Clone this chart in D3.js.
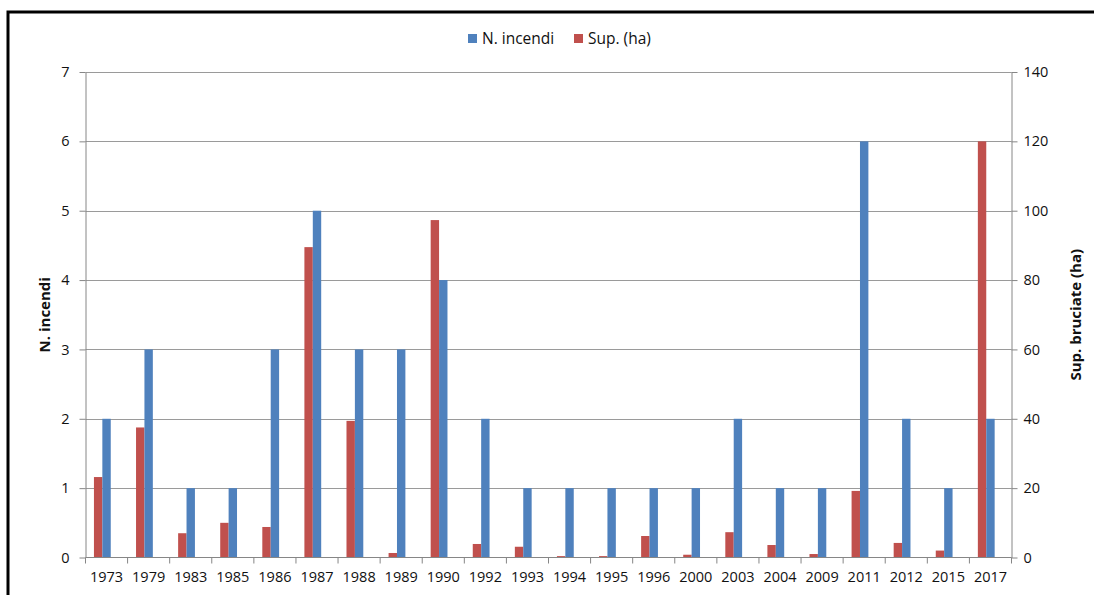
<!DOCTYPE html>
<html><head><meta charset="utf-8">
<script src="https://cdn.jsdelivr.net/npm/d3@7"></script>
<style>
html,body{margin:0;padding:0;background:#fff;}
svg{display:block;}
text{font-family:"Open Sans",sans-serif;fill:#111;}
</style></head>
<body>
<script>
const years = ["1973","1979","1983","1985","1986","1987","1988","1989","1990","1992","1993","1994","1995","1996","2000","2003","2004","2009","2011","2012","2015","2017"];
const nIncendi = [2,3,1,1,3,5,3,3,4,2,1,1,1,1,1,2,1,1,6,2,1,2];
const supHa = [23.2,37.5,7.0,10.0,8.8,89.5,39.4,1.3,97.3,3.9,3.1,0.4,0.4,6.2,0.8,7.3,3.6,1.0,19.2,4.2,2.0,120];
const leftTicks = [0,1,2,3,4,5,6,7];
const rightTicks = [0,20,40,60,80,100,120,140];
const seriesNames = ["N. incendi","Sup. (ha)"];
const colors = ["#4F81BD","#C0504D"];

const W=1094,H=595;
const m={left:85.5,right:1011.5,top:72,bottom:557.5};
const svg=d3.select("body").append("svg").attr("width",W).attr("height",H);

// outer frame
svg.append("rect").attr("x",8).attr("y",12).attr("width",W+20).attr("height",H+20)
  .attr("fill","none").attr("stroke","#000").attr("stroke-width",3);

const x=d3.scaleBand().domain(years).range([m.left,m.right]).padding(0);
const yL=d3.scaleLinear().domain([0,7]).range([m.bottom,m.top]);
const yR=d3.scaleLinear().domain([0,140]).range([m.bottom,m.top]);
const bw=8.4;

// gridlines
svg.append("g").selectAll("line").data(leftTicks.filter(d=>d>0)).join("line")
  .attr("x1",m.left).attr("x2",m.right).attr("y1",d=>Math.round(yL(d))+0.5).attr("y2",d=>Math.round(yL(d))+0.5)
  .attr("stroke","#9a9a9a").attr("stroke-width",1.2);

// bars
svg.append("g").selectAll("rect").data(years).join("rect")
  .attr("x",(d)=>x(d)+x.bandwidth()/2-bw/2-bw).attr("width",bw)
  .attr("y",(d,i)=>yR(supHa[i])).attr("height",(d,i)=>m.bottom-yR(supHa[i]))
  .attr("fill",colors[1]);
svg.append("g").selectAll("rect").data(years).join("rect")
  .attr("x",(d)=>x(d)+x.bandwidth()/2-bw/2).attr("width",bw)
  .attr("y",(d,i)=>yL(nIncendi[i])).attr("height",(d,i)=>m.bottom-yL(nIncendi[i]))
  .attr("fill",colors[0]);

// axes
const axStyle=g=>{g.selectAll("path,line").attr("stroke","#868686");g.selectAll("text").attr("fill","#111").style("font-size","14.5px").style("font-family","'Open Sans',sans-serif");};
svg.append("g").attr("transform",`translate(${m.left},0)`)
  .call(d3.axisLeft(yL).tickValues(leftTicks).tickFormat(d3.format("d")).tickSize(6).tickSizeOuter(0).tickPadding(10))
  .call(axStyle);
svg.append("g").attr("transform",`translate(${m.right},0)`)
  .call(d3.axisRight(yR).tickValues(rightTicks).tickFormat(d3.format("d")).tickSize(6).tickSizeOuter(0).tickPadding(6))
  .call(axStyle);
const xa=svg.append("g").attr("transform",`translate(0,${m.bottom})`)
  .call(d3.axisBottom(x).tickSize(0).tickPadding(14)).call(axStyle);
xa.select(".domain").attr("d",`M${m.left},0H${m.right}`);
// boundary ticks
svg.append("g").selectAll("line").data(years.concat(["end"])).join("line")
  .attr("x1",(d,i)=>m.left+i*x.bandwidth()).attr("x2",(d,i)=>m.left+i*x.bandwidth())
  .attr("y1",m.bottom).attr("y2",m.bottom+6).attr("stroke","#868686");

// axis titles
svg.append("text").attr("transform",`translate(50,${(m.top+m.bottom)/2}) rotate(-90)`)
  .attr("text-anchor","middle").style("font-size","15px").style("font-weight","bold").text("N. incendi");
svg.append("text").attr("transform",`translate(1081,${(m.top+m.bottom)/2}) rotate(-90)`)
  .attr("text-anchor","middle").style("font-size","15px").style("font-weight","bold").text("Sup. bruciate (ha)");

// legend
const lg=svg.append("g");
const lx=[468,574];
seriesNames.forEach((n,i)=>{
  lg.append("rect").attr("x",lx[i]).attr("y",34).attr("width",9).attr("height",9).attr("fill",colors[i]);
  lg.append("text").attr("x",lx[i]+14).attr("y",44).style("font-size","15.5px").text(n);
});
</script>
</body></html>
